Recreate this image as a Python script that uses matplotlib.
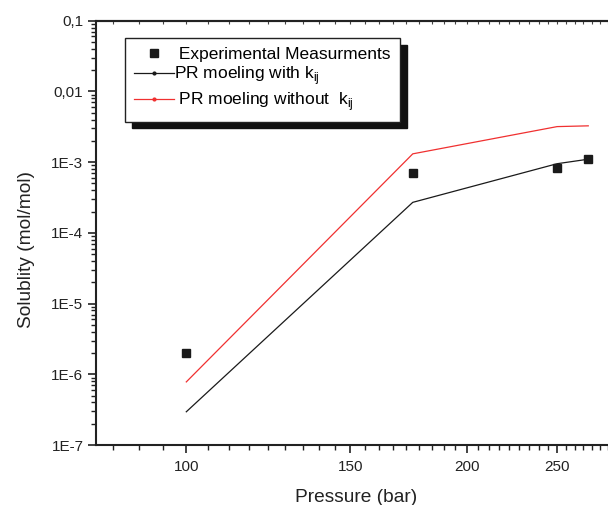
import numpy as np
import matplotlib
matplotlib.use("Agg")
import matplotlib.pyplot as plt
from matplotlib.lines import Line2D
from matplotlib.patches import Shadow
from matplotlib.ticker import FixedLocator, LogLocator, NullFormatter

plt.rcParams['font.family'] = ['Liberation Sans', 'DejaVu Sans']

# Data
pressure_exp = [100, 175, 250, 270]
solubility_exp = [2.0e-6, 7.1e-4, 8.2e-4, 1.09e-3]

pressure_model = [100, 175, 250, 270]
pr_with_kij = [2.95e-7, 2.7e-4, 9.5e-4, 1.1e-3]
pr_without_kij = [7.8e-7, 1.31e-3, 3.18e-3, 3.26e-3]

x_major = [100, 150, 200, 250]
y_ticks = [1e-7, 1e-6, 1e-5, 1e-4, 1e-3, 1e-2, 1e-1]
y_ticklabels = ['1E-7', '1E-6', '1E-5', '1E-4', '1E-3', '0,01', '0,1']

labels = [' Experimental Measurments',
          r'PR moeling with k$_{\mathregular{ij}}$',
          r' PR moeling without  k$_{\mathregular{ij}}$']

W, H = 608, 505
fig = plt.figure(figsize=(W / 100, H / 100), dpi=100)
ax = fig.add_axes([96 / W, 1 - 445 / H, 1 - 96 / W, (445 - 20.7) / H])

ax.plot(pressure_model, pr_with_kij, color='#1a1a1a', lw=0.9, zorder=2)
ax.plot(pressure_model, pr_without_kij, color='#f03030', lw=0.9, zorder=2)
ax.plot(pressure_exp, solubility_exp, 's', color='#1a1a1a', ms=6, zorder=3)

ax.set_xscale('log')
ax.set_yscale('log')
ax.set_xlim(80, 283.5)
ax.set_ylim(1e-7, 1e-1)

# x ticks: major every 50, 8 minor between majors
minor = []
for start in [50, 100, 150, 200, 250]:
    for k in range(1, 9):
        v = start + k * 50 / 9
        if 80 <= v <= 283.5:
            minor.append(v)
ax.xaxis.set_major_locator(FixedLocator(x_major))
ax.xaxis.set_minor_locator(FixedLocator(minor))
ax.set_xticklabels([str(v) for v in x_major])
ax.xaxis.set_minor_formatter(NullFormatter())

ax.yaxis.set_major_locator(FixedLocator(y_ticks))
ax.set_yticklabels(y_ticklabels)
ax.yaxis.set_minor_locator(LogLocator(base=10, subs=np.arange(2, 10), numticks=20))
ax.yaxis.set_minor_formatter(NullFormatter())

ax.tick_params(axis='both', which='major', direction='out', length=6, width=1.2,
               labelsize=11, color='#222222', labelcolor='#222222')
ax.tick_params(axis='both', which='minor', direction='out', length=3.5, width=1.0,
               color='#222222')
ax.tick_params(axis='x', which='major', pad=5)
ax.tick_params(axis='y', which='major', pad=3)

for s in ['left', 'bottom', 'top']:
    ax.spines[s].set_linewidth(1.5)
    ax.spines[s].set_color('#222222')
ax.spines['right'].set_visible(False)

# top inward small ticks
sec = ax.secondary_xaxis('top')
sec.set_xscale('log')
sec.xaxis.set_major_locator(FixedLocator(x_major))
sec.xaxis.set_minor_locator(FixedLocator(minor))
sec.xaxis.set_major_formatter(NullFormatter())
sec.xaxis.set_minor_formatter(NullFormatter())
sec.tick_params(which='both', direction='in', length=2, width=0.8, color='#444444')
sec.spines['top'].set_linewidth(1.5)
sec.spines['top'].set_color('#222222')

ax.set_xlabel('Pressure (bar)', fontsize=13.8, color='#222222')
ax.set_ylabel('Solublity (mol/mol)', fontsize=13.8, color='#222222')
ax.xaxis.set_label_coords(0.508, -0.103)
ax.yaxis.set_label_coords(-0.119, 0.46)

handles = [
    Line2D([], [], ls='none', marker='s', color='#1a1a1a', ms=6),
    Line2D([], [], color='#1a1a1a', lw=0.9, marker='o', ms=2),
    Line2D([], [], color='#f03030', lw=0.9, marker='o', ms=2),
]
leg = ax.legend(handles, labels, loc='upper left',
                bbox_to_anchor=(125 / W, 1 - 38 / H), bbox_transform=fig.transFigure,
                borderaxespad=0, fontsize=12.5, frameon=True, fancybox=False,
                framealpha=1, facecolor='white',
                handlelength=2.3, handletextpad=0.05, labelspacing=0.15,
                borderpad=0.5, markerscale=1)
leg.get_frame().set_edgecolor('#222222')
leg.get_frame().set_linewidth(1.0)
leg.set_zorder(10)

fig.canvas.draw()
sh = Shadow(leg.legendPatch, 5, -5, facecolor='#111111', edgecolor='#111111', alpha=1)
sh.set_zorder(9)
ax.add_artist(sh)

fig.savefig('out.png', dpi=100)
